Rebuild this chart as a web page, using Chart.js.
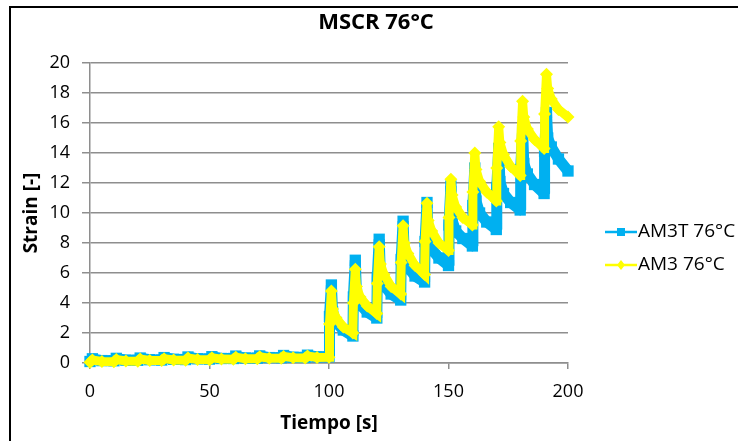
<!DOCTYPE html>
<html>
<head>
<meta charset="utf-8">
<title>MSCR 76°C</title>
<script src="https://cdn.jsdelivr.net/npm/chart.js@4.4.1/dist/chart.umd.min.js"></script>
<style>
  html, body { margin: 0; padding: 0; background: #fff; }
  #wrap { position: relative; width: 738px; height: 441px; overflow: hidden; }
  #frame { position: absolute; left: 9px; top: 6px; width: 760px; height: 480px; border: 2px solid #000; box-sizing: border-box; }
  #mscrChart { position: absolute; left: 0; top: 0; }
</style>
</head>
<body>
<div id="wrap">
  <div id="frame"></div>
  <canvas id="mscrChart" width="738" height="441"></canvas>
</div>
<script>
// time [s]: 0.1 kPa cycles (0-100), then 3.2 kPa cycles (100-200)
const tiempo = [
  0, 1, 5, 10, 11, 15, 20, 21, 25, 30, 31, 35, 40, 41, 45,
  50, 51, 55, 60, 61, 65, 70, 71, 75, 80, 81, 85, 90, 91, 95,
  100, 100.2, 101, 101.5, 103, 106,
  110, 110.2, 111, 111.5, 113, 116,
  120, 120.2, 121, 121.5, 123, 126,
  130, 130.2, 131, 131.5, 133, 136,
  140, 140.2, 141, 141.5, 143, 146,
  150, 150.2, 151, 151.5, 153, 156,
  160, 160.2, 161, 161.5, 163, 166,
  170, 170.2, 171, 171.5, 173, 176,
  180, 180.2, 181, 181.5, 183, 186,
  190, 190.2, 191, 191.5, 193, 196,
  200
];

const am3t = [
  0.10, 0.28, 0.16, 0.15, 0.31, 0.19, 0.18, 0.33, 0.22, 0.20, 0.36, 0.25, 0.23, 0.40, 0.28,
  0.26, 0.42, 0.30, 0.30, 0.46, 0.33, 0.32, 0.47, 0.36, 0.35, 0.50, 0.38, 0.37, 0.52, 0.41,
  0.42, 3.1, 5.2, 3.4, 2.7, 2.2,
  1.8, 4.4, 6.85, 4.6, 3.9, 3.4,
  3.0, 5.7, 8.25, 5.9, 5.2, 4.6,
  4.2, 6.9, 9.45, 7.1, 6.4, 5.8,
  5.4, 8.1, 10.7, 8.3, 7.6, 7.0,
  6.5, 9.2, 11.8, 9.5, 8.8, 8.3,
  7.8, 10.5, 13.0, 10.8, 10.0, 9.4,
  8.9, 11.7, 14.3, 12.1, 11.3, 10.7,
  10.2, 12.9, 15.5, 13.3, 12.6, 11.9,
  11.3, 14.1, 16.7, 15.0, 14.4, 13.6,
  12.8
];

const am3 = [
  0.05, 0.20, 0.10, 0.09, 0.23, 0.13, 0.12, 0.26, 0.17, 0.16, 0.29, 0.20, 0.19, 0.33, 0.23,
  0.22, 0.35, 0.26, 0.25, 0.39, 0.29, 0.28, 0.41, 0.32, 0.31, 0.44, 0.35, 0.34, 0.47, 0.37,
  0.38, 2.6, 4.8, 3.6, 3.0, 2.4,
  2.0, 4.0, 6.25, 5.1, 4.4, 3.8,
  3.3, 5.3, 7.75, 6.6, 5.9, 5.1,
  4.6, 6.7, 9.15, 8.0, 7.3, 6.5,
  5.9, 8.1, 10.65, 9.5, 8.8, 8.0,
  7.5, 9.7, 12.25, 11.2, 10.4, 9.7,
  9.2, 11.4, 14.0, 12.9, 12.1, 11.4,
  10.8, 13.0, 15.75, 14.7, 13.9, 13.1,
  12.5, 14.8, 17.45, 16.4, 15.6, 14.9,
  14.3, 16.6, 19.25, 18.3, 17.6, 16.9,
  16.4
];

const seriesNames = ["AM3T 76°C", "AM3 76°C"];

const FONT = '"Open Sans", "Liberation Sans", sans-serif';
const GRID = "#8e8e8e";

// legend drawn at the right, Excel style (line + marker)
const sideLegend = {
  id: "sideLegend",
  afterDraw(chart) {
    const ctx = chart.ctx;
    const rows = [232, 265];
    chart.data.datasets.forEach((ds, i) => {
      const y = rows[i];
      ctx.save();
      ctx.strokeStyle = ds.borderColor;
      ctx.lineWidth = 2.5;
      ctx.beginPath();
      ctx.moveTo(605, y);
      ctx.lineTo(637, y);
      ctx.stroke();
      ctx.fillStyle = ds.pointBackgroundColor;
      if (ds.pointStyle === "rect") {
        ctx.fillRect(617, y - 4, 8, 8);
      } else {
        ctx.beginPath();
        ctx.moveTo(621, y - 5);
        ctx.lineTo(625, y);
        ctx.lineTo(621, y + 5);
        ctx.lineTo(617, y);
        ctx.closePath();
        ctx.fill();
      }
      ctx.fillStyle = "#000";
      ctx.font = "19px " + FONT;
      ctx.textBaseline = "middle";
      ctx.fillText(ds.label, 638, y);
      ctx.restore();
    });
  }
};

new Chart(document.getElementById("mscrChart"), {
  type: "line",
  data: {
    datasets: [
      {
        label: seriesNames[0],
        data: tiempo.map((t, i) => ({ x: t, y: am3t[i] })),
        borderColor: "#00b0f0",
        backgroundColor: "#00b0f0",
        pointBackgroundColor: "#00b0f0",
        pointBorderColor: "#00b0f0",
        pointStyle: "rect",
        pointRadius: 8,
        pointBorderWidth: 0,
        borderWidth: 11,
        borderJoinStyle: "bevel",
        order: 2,
        clip: false
      },
      {
        label: seriesNames[1],
        data: tiempo.map((t, i) => ({ x: t, y: am3[i] })),
        borderColor: "#ffff00",
        backgroundColor: "#ffff00",
        pointBackgroundColor: "#ffff00",
        pointBorderColor: "#ffff00",
        pointStyle: "rectRot",
        pointRadius: 6.5,
        pointBorderWidth: 0,
        borderWidth: 9,
        order: 1,
        clip: false
      }
    ]
  },
  options: {
    responsive: false,
    animation: false,
    devicePixelRatio: 1,
    layout: { padding: { left: 14, right: 0, top: 0, bottom: 0 } },
    elements: { line: { tension: 0 } },
    plugins: {
      legend: { display: false },
      tooltip: { enabled: false },
      title: {
        display: true,
        text: "MSCR 76°C",
        color: "#000",
        font: { family: FONT, size: 22, weight: "bold" },
        padding: { top: 10, bottom: 26.6 }
      }
    },
    scales: {
      x: {
        type: "linear",
        min: 0,
        max: 200,
        ticks: { stepSize: 50, color: "#000", padding: 12, font: { family: FONT, size: 18 } },
        grid: { drawOnChartArea: false, drawTicks: true, tickLength: 6, color: GRID, lineWidth: 1.5 },
        border: { display: true, color: GRID, width: 1.5 },
        title: { display: true, text: "Tiempo [s]", color: "#000", font: { family: FONT, size: 19, weight: "bold" }, padding: { top: 0, bottom: 6 } },
        afterFit: s => { s.height = 78; }
      },
      y: {
        min: 0,
        max: 20,
        ticks: { stepSize: 2, color: "#000", padding: 12, font: { family: FONT, size: 18 } },
        grid: { color: GRID, lineWidth: 1.5, tickLength: 8 },
        border: { display: true, color: GRID, width: 1.5 },
        title: { display: true, text: "Strain [-]", color: "#000", font: { family: FONT, size: 19, weight: "bold" }, padding: { top: 6, bottom: 0 } },
        afterFit: s => { s.width = 76; }
      },
      // empty box on the right to leave room for the legend
      side: {
        type: "linear",
        position: "right",
        display: true,
        grid: { display: false },
        ticks: { display: false },
        border: { display: false },
        afterFit: s => { s.width = 170; }
      }
    }
  },
  plugins: [sideLegend]
});
</script>
</body>
</html>
